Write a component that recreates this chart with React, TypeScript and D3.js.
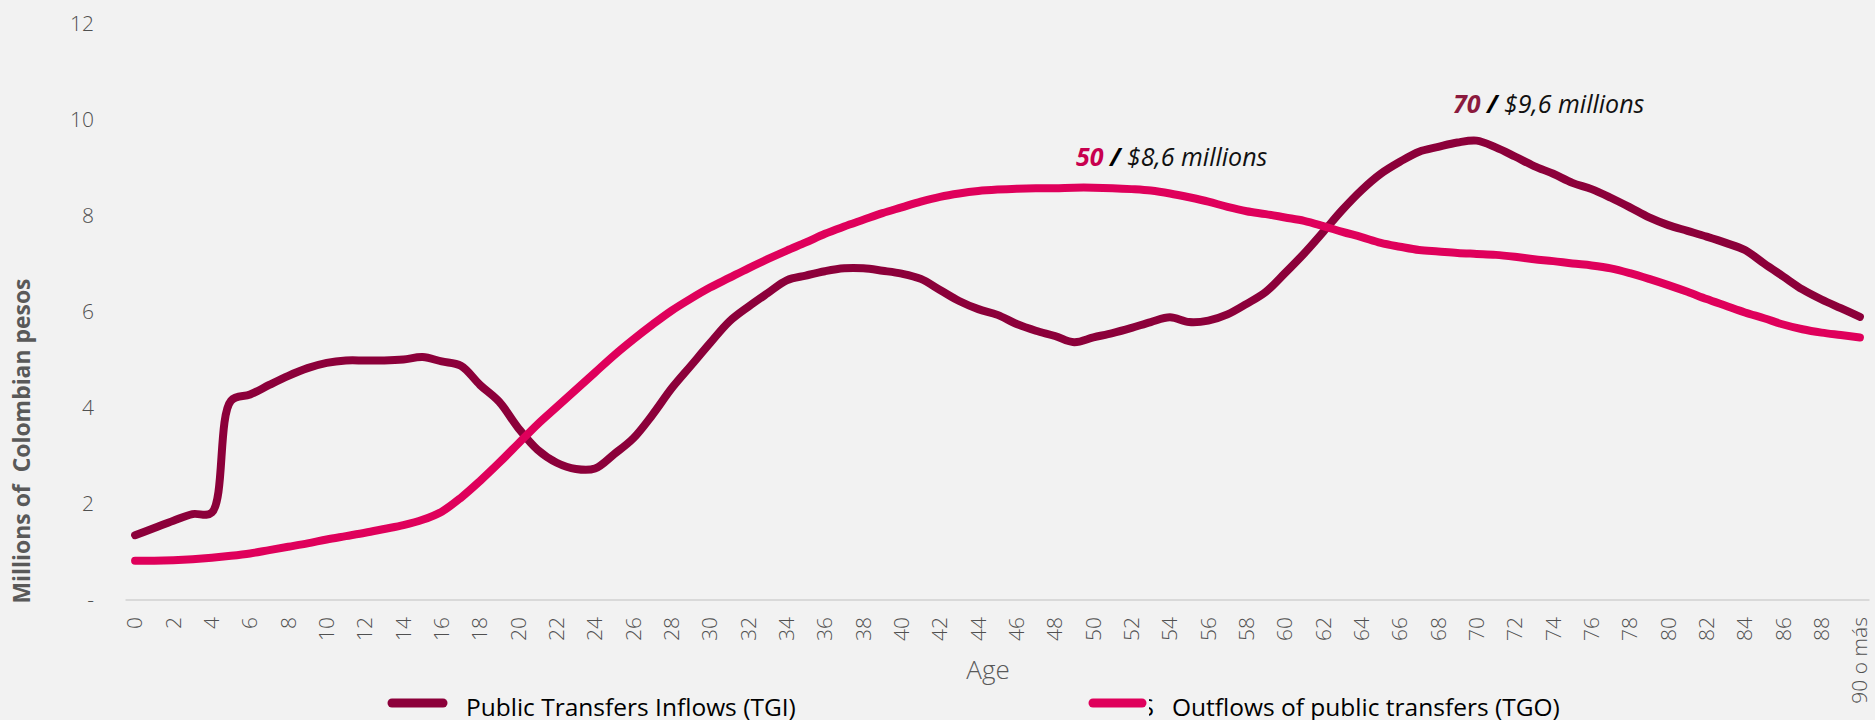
import React from "react";
import * as d3 from "d3";

const ageLabels = [
  "0","1","2","3","4","5","6","7","8","9",
  "10","11","12","13","14","15","16","17","18","19",
  "20","21","22","23","24","25","26","27","28","29",
  "30","31","32","33","34","35","36","37","38","39",
  "40","41","42","43","44","45","46","47","48","49",
  "50","51","52","53","54","55","56","57","58","59",
  "60","61","62","63","64","65","66","67","68","69",
  "70","71","72","73","74","75","76","77","78","79",
  "80","81","82","83","84","85","86","87","88","89",
  "90 o más",
];

// Public Transfers Inflows (TGI), millions of Colombian pesos
const tgiValues = [
  1.35, 1.50, 1.65, 1.79, 1.82, 4.15, 4.28, 4.48, 4.67, 4.83,
  4.94, 4.99, 4.99, 4.99, 5.01, 5.06, 4.97, 4.88, 4.48, 4.13,
  3.58, 3.13, 2.86, 2.73, 2.74, 3.04, 3.37, 3.86, 4.41, 4.88,
  5.35, 5.80, 6.11, 6.39, 6.66, 6.76, 6.85, 6.91, 6.91, 6.86,
  6.80, 6.69, 6.46, 6.23, 6.06, 5.94, 5.75, 5.61, 5.50, 5.37,
  5.47, 5.56, 5.67, 5.79, 5.89, 5.79, 5.82, 5.95, 6.17, 6.42,
  6.81, 7.22, 7.67, 8.13, 8.54, 8.88, 9.13, 9.34, 9.44, 9.53,
  9.57, 9.43, 9.24, 9.04, 8.88, 8.69, 8.56, 8.38, 8.18, 7.97,
  7.81, 7.69, 7.57, 7.44, 7.29, 7.01, 6.74, 6.47, 6.26, 6.08,
  5.90,
];

// Outflows of public transfers (TGO), millions of Colombian pesos
const tgoValues = [
  0.82, 0.82, 0.83, 0.85, 0.88, 0.92, 0.97, 1.04, 1.11, 1.18,
  1.26, 1.33, 1.40, 1.48, 1.56, 1.67, 1.84, 2.13, 2.48, 2.86,
  3.26, 3.66, 4.02, 4.38, 4.74, 5.10, 5.43, 5.74, 6.03, 6.28,
  6.51, 6.71, 6.91, 7.10, 7.28, 7.45, 7.63, 7.78, 7.92, 8.06,
  8.18, 8.30, 8.40, 8.47, 8.52, 8.55, 8.57, 8.58, 8.58, 8.59,
  8.59, 8.58, 8.56, 8.53, 8.47, 8.39, 8.30, 8.19, 8.10, 8.04,
  7.97, 7.90, 7.79, 7.67, 7.56, 7.44, 7.36, 7.29, 7.26, 7.23,
  7.21, 7.19, 7.15, 7.10, 7.06, 7.01, 6.97, 6.91, 6.81, 6.69,
  6.56, 6.42, 6.27, 6.13, 5.99, 5.87, 5.74, 5.64, 5.57, 5.52,
  5.47,
];

const yTickValues = [0, 2, 4, 6, 8, 10, 12];
const seriesNames = ["Public Transfers Inflows (TGI)", "Outflows of public transfers (TGO)"];
const seriesColors = ["#8C003A", "#DF005B"];

const W = 1875;
const H = 720;
const FONT = "'Open Sans', 'Noto Sans', sans-serif";

export default function App() {
  const x = d3
    .scalePoint<string>()
    .domain(ageLabels)
    .range([125.5, 1869.5])
    .padding(0.5);
  const y = d3.scaleLinear().domain([0, 12]).range([600, 24]);

  const line = d3
    .line<number>()
    .x((_, i) => x(ageLabels[i]) as number)
    .y((d) => y(d))
    .curve(d3.curveCatmullRom.alpha(0.5));

  const series = [tgiValues, tgoValues];

  return (
    <div style={{ position: "absolute", left: 0, top: 0, width: W, height: H, background: "#F2F2F2" }}>
      <svg width={W} height={H} viewBox={`0 0 ${W} ${H}`} style={{ display: "block" }}>
        <defs>
          <clipPath id="legClip">
            <rect x={1149} y={680} width={10} height={40} />
          </clipPath>
        </defs>
        <rect x={0} y={0} width={W} height={H} fill="#F2F2F2" />

        {/* Y tick labels */}
        {yTickValues.map((v) => (
          <text
            key={v}
            x={94}
            y={y(v)}
            dy="0.35em"
            textAnchor="end"
            fontFamily={FONT}
            fontWeight={300}
            fontSize={21}
            fill="#505050"
          >
            {v === 0 ? "-" : String(v)}
          </text>
        ))}

        {/* Axis line */}
        <line x1={125.5} x2={1869.5} y1={y(0)} y2={y(0)} stroke="#D9D9D9" strokeWidth={2} />

        {/* X tick labels */}
        {ageLabels.map((lab, i) =>
          i % 2 === 0 ? (
            <text
              key={lab}
              transform={`translate(${x(lab)},617) rotate(-90)`}
              dy="0.35em"
              textAnchor="end"
              fontFamily={FONT}
              fontWeight={300}
              fontSize={21}
              fill="#505050"
            >
              {lab}
            </text>
          ) : null
        )}

        {/* Y axis title */}
        <text
          transform="translate(30,441) rotate(-90)"
          textAnchor="middle"
          fontFamily={FONT}
          fontWeight={700}
          fontSize={23}
          fill="#595959"
          style={{ whiteSpace: "pre" }}
          textLength={325}
          lengthAdjust="spacingAndGlyphs"
        >
          {"Millions of  Colombian pesos"}
        </text>

        {/* X axis title */}
        <text
          x={988}
          y={679}
          textAnchor="middle"
          fontFamily={FONT}
          fontWeight={300}
          fontSize={26}
          fill="#595959"
        >
          Age
        </text>

        {/* Lines */}
        {series.map((vals, si) => (
          <path
            key={si}
            d={line(vals) as string}
            fill="none"
            stroke={seriesColors[si]}
            strokeWidth={8}
            strokeLinecap="round"
            strokeLinejoin="round"
          />
        ))}

        {/* Annotations */}
        <text x={1076} y={166} fontFamily={FONT} fontSize={25} fontStyle="italic" fill="#111">
          <tspan fill="#C8004F" fontWeight={700}>50</tspan>
          <tspan fontWeight={700} fill="#000">{" / "}</tspan>
          <tspan>$8,6 millions</tspan>
        </text>
        <text x={1453} y={113} fontFamily={FONT} fontSize={25} fontStyle="italic" fill="#111">
          <tspan fill="#8B1A3E" fontWeight={700}>70</tspan>
          <tspan fontWeight={700} fill="#000">{" / "}</tspan>
          <tspan>$9,6 millions</tspan>
        </text>

        {/* Legend */}
        <line x1={392} x2={443} y1={703} y2={703} stroke={seriesColors[0]} strokeWidth={9} strokeLinecap="round" />
        <text x={466} y={716} fontFamily={FONT} fontSize={24.5} fill="#000">
          {seriesNames[0]}
        </text>
        <line x1={1093} x2={1142} y1={703} y2={703} stroke={seriesColors[1]} strokeWidth={9} strokeLinecap="round" />
        <text x={1154} y={716} textAnchor="end" fontFamily={FONT} fontSize={24.5} fill="#000" clipPath="url(#legClip)">
          S
        </text>
        <text x={1172} y={716} fontFamily={FONT} fontSize={24.5} fill="#000">
          {seriesNames[1]}
        </text>
      </svg>
    </div>
  );
}
